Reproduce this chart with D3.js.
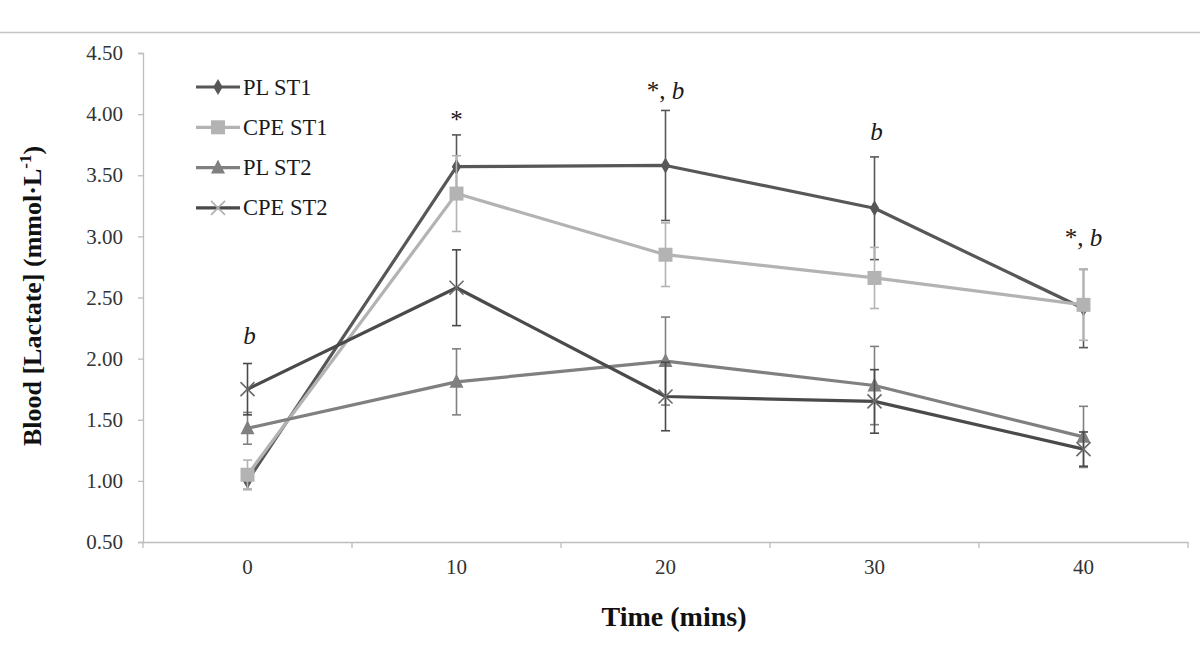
<!DOCTYPE html>
<html>
<head>
<meta charset="utf-8">
<script src="https://cdn.jsdelivr.net/npm/d3@7"></script>
<style>
  html, body { margin: 0; padding: 0; background: #fff; }
  svg { display: block; }
  text { font-family: "Liberation Serif", "Times New Roman", serif; }
</style>
</head>
<body>
<svg id="chart" width="1200" height="670"></svg>
<script>
// ---- data ----
const times = ["0", "10", "20", "30", "40"];
const seriesNames = ["PL ST1", "CPE ST1", "PL ST2", "CPE ST2"];
const plST1 = [1.00, 3.57, 3.58, 3.23, 2.41];
const plST1Err = [0.07, 0.26, 0.45, 0.42, 0.32];
const cpeST1 = [1.05, 3.35, 2.85, 2.66, 2.44];
const cpeST1Err = [0.12, 0.31, 0.26, 0.25, 0.29];
const plST2 = [1.43, 1.81, 1.98, 1.78, 1.36];
const plST2Err = [0.13, 0.27, 0.36, 0.32, 0.25];
const cpeST2 = [1.75, 2.58, 1.69, 1.65, 1.26];
const cpeST2Err = [0.21, 0.31, 0.28, 0.26, 0.14];
const yTicks = [0.5, 1.0, 1.5, 2.0, 2.5, 3.0, 3.5, 4.0, 4.5];
const annLabels = ["b", "*", "*, b", "b", "*, b"];
const annY = [2.12, 3.89, 4.12, 3.79, 2.92];

// ---- styles ----
const colors = ["#575757", "#b3b3b3", "#808080", "#4a4a4a"];
const markerColors = ["#575757", "#b3b3b3", "#808080", "#6a6a6a"];
const shapes = ["diamond", "square", "triangle", "cross"];

const values = [plST1, cpeST1, plST2, cpeST2];
const errs = [plST1Err, cpeST1Err, plST2Err, cpeST2Err];

const svg = d3.select("#chart");
svg.append("rect").attr("width", 1200).attr("height", 670).attr("fill", "#fff");

// top border line
svg.append("line").attr("x1", 0).attr("x2", 1200).attr("y1", 32.5).attr("y2", 32.5)
  .attr("stroke", "#c4c4c4").attr("stroke-width", 1.5);

const plotLeft = 143, plotRight = 1188, plotTop = 53, plotBottom = 542;
const x = d3.scaleBand().domain(times).range([plotLeft, plotRight]).paddingInner(0).paddingOuter(0);
const y = d3.scaleLinear().domain([0.5, 4.5]).range([plotBottom, plotTop]);
const cx = t => x(t) + x.bandwidth() / 2;
const axisColor = "#bdbdbd";
const tickTextColor = "#333";

// y axis
const yAxis = svg.append("g").attr("transform", `translate(${plotLeft},0)`)
  .call(d3.axisLeft(y).tickValues(yTicks).tickFormat(d3.format(".2f")).tickSize(5).tickPadding(15));
yAxis.select(".domain").attr("stroke", axisColor).attr("stroke-width", 1.3);
yAxis.selectAll(".tick line").attr("stroke", axisColor).attr("stroke-width", 1.3);
yAxis.selectAll(".tick text").attr("font-size", 21).attr("fill", tickTextColor)
  .style("font-family", '"Liberation Serif", serif');

// x axis
const xAxis = svg.append("g").attr("transform", `translate(0,${plotBottom})`)
  .call(d3.axisBottom(x).tickSize(0).tickPadding(17));
xAxis.select(".domain").attr("stroke", axisColor).attr("stroke-width", 1.3);
xAxis.selectAll(".tick text").attr("font-size", 21).attr("fill", tickTextColor)
  .style("font-family", '"Liberation Serif", serif');
// boundary ticks between categories
const boundaries = d3.range(times.length + 1);
xAxis.selectAll(".btick").data(boundaries).enter().append("line")
  .attr("x1", i => plotLeft + i * x.step()).attr("x2", i => plotLeft + i * x.step())
  .attr("y1", 0).attr("y2", 6)
  .attr("stroke", axisColor).attr("stroke-width", 1.3);

// axis titles
svg.append("text")
  .attr("transform", `translate(41,296) rotate(-90)`)
  .attr("text-anchor", "middle").attr("font-size", 26).attr("font-weight", "bold").attr("fill", "#111")
  .call(t => {
    t.append("tspan").text("Blood [Lactate] (mmol·L");
    t.append("tspan").attr("font-size", 17).attr("dy", -10).text("-1");
    t.append("tspan").attr("dy", 10).text(")");
  });
svg.append("text").attr("x", 674).attr("y", 626).attr("text-anchor", "middle")
  .attr("font-size", 28).attr("font-weight", "bold").attr("fill", "#111").text("Time (mins)");

// marker drawing
function drawMarker(g, shape, cxv, cyv, color) {
  if (shape === "diamond") {
    g.append("path").attr("d", d3.symbol().type(d3.symbolDiamond).size(75)())
      .attr("transform", `translate(${cxv},${cyv})`).attr("fill", color);
  } else if (shape === "square") {
    g.append("rect").attr("x", cxv - 7).attr("y", cyv - 7).attr("width", 14).attr("height", 14).attr("fill", color);
  } else if (shape === "triangle") {
    g.append("path").attr("d", `M${cxv},${cyv - 8}L${cxv + 7},${cyv + 6}L${cxv - 7},${cyv + 6}Z`).attr("fill", color);
  } else if (shape === "cross") {
    g.append("path").attr("d", `M${cxv - 7},${cyv - 7}L${cxv + 7},${cyv + 7}M${cxv - 7},${cyv + 7}L${cxv + 7},${cyv - 7}`)
      .attr("stroke", color).attr("stroke-width", 1.6).attr("fill", "none");
  }
}

const line = d3.line().x((d, i) => cx(times[i])).y(d => y(d));

values.forEach((vals, s) => {
  const g = svg.append("g");
  // error bars
  vals.forEach((v, i) => {
    const e = errs[s][i];
    const xc = cx(times[i]);
    g.append("line").attr("x1", xc).attr("x2", xc).attr("y1", y(v - e)).attr("y2", y(v + e))
      .attr("stroke", colors[s]).attr("stroke-width", 1.6);
    [v - e, v + e].forEach(w => {
      g.append("line").attr("x1", xc - 4.5).attr("x2", xc + 4.5).attr("y1", y(w)).attr("y2", y(w))
        .attr("stroke", colors[s]).attr("stroke-width", 1.6);
    });
  });
  g.append("path").datum(vals).attr("d", line).attr("fill", "none")
    .attr("stroke", colors[s]).attr("stroke-width", 3.2).attr("stroke-linejoin", "round");
  vals.forEach((v, i) => drawMarker(g, shapes[s], cx(times[i]), y(v), markerColors[s]));
});

// annotations
annLabels.forEach((lab, i) => {
  const t = svg.append("text").attr("x", cx(times[i]) + (lab === "b" ? 2 : 0)).attr("y", y(annY[i]))
    .attr("text-anchor", "middle").attr("font-size", 25).attr("fill", "#1a1a1a");
  lab.split(/(b)/).filter(p => p.length).forEach(p => {
    const sp = t.append("tspan").text(p);
    if (p === "b") sp.attr("font-style", "italic");
  });
});

// legend
const legendY0 = 87, legendStep = 40.3;
seriesNames.forEach((name, s) => {
  const ly = legendY0 + s * legendStep;
  const g = svg.append("g");
  g.append("line").attr("x1", 196).attr("x2", 240).attr("y1", ly).attr("y2", ly)
    .attr("stroke", colors[s]).attr("stroke-width", 3.2);
  drawMarker(g, shapes[s], 218, ly, s === 3 ? "#b0b0b0" : markerColors[s]);
  g.append("text").attr("x", 243).attr("y", ly + 7.5).attr("font-size", 22.5).attr("fill", "#1a1a1a").text(name);
});
</script>
</body>
</html>
